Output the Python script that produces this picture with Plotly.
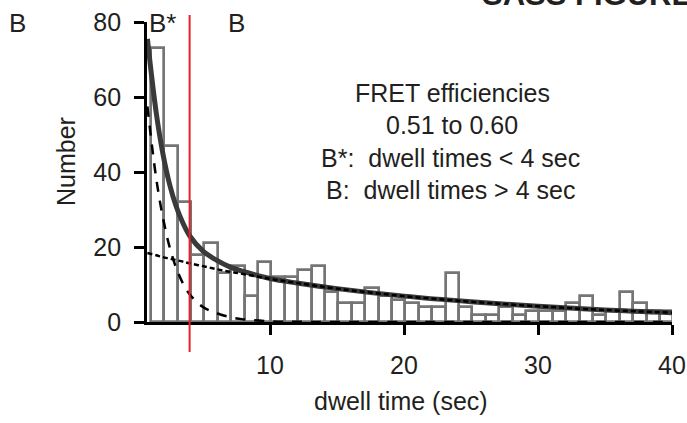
import plotly.graph_objects as go

# ---- data ----
bin_centers = [k + 0.6 for k in range(1, 40)]
counts = [73, 47, 32, 18, 21, 13, 15, 7, 16, 12,
          12, 14, 15, 8, 5, 5, 9, 7, 6, 5,
          4, 4, 13, 4, 2, 2, 4, 2, 3, 3,
          3, 5, 7, 2, 3, 8, 5, 3, 3]

fit_x = [0.85, 1.5, 2, 2.5, 3, 3.5, 4, 5, 6, 7, 8, 10, 12, 15, 20, 25, 30, 35, 40]
fit_total = [75.5, 56.0, 45.0, 36.8, 30.8, 26.4, 23.0, 18.9, 16.5, 14.7, 13.5,
             11.6, 10.4, 8.9, 6.9, 5.4, 4.2, 3.2, 2.5]
fit_fast = [57.5, 38.5, 28.0, 20.1, 14.4, 10.3, 7.4, 4.0, 2.4, 1.3, 0.7,
            0.2, 0.05, 0, 0, 0, 0, 0, 0]
fit_slow = [18.4, 17.8, 17.3, 16.9, 16.5, 16.1, 15.65, 14.9, 14.1, 13.4, 12.8,
            11.5, 10.4, 8.9, 6.9, 5.4, 4.2, 3.2, 2.5]

x_ticks = [10, 20, 30, 40]
y_ticks = [0, 20, 40, 60, 80]
threshold = 4

FONT = "Liberation Sans, Arial, Helvetica, sans-serif"
TXT = "#231f20"

fig = go.Figure()
fig.add_trace(go.Bar(x=bin_centers, y=counts, width=1,
                     marker=dict(color="rgba(255,255,255,0)",
                                 line=dict(color="#757575", width=2.7)),
                     showlegend=False))
fig.add_trace(go.Scatter(x=fit_x, y=fit_total, mode="lines",
                         line=dict(color="#3a3a3a", width=5, shape="spline"),
                         showlegend=False))
fig.add_trace(go.Scatter(x=fit_x, y=fit_fast, mode="lines",
                         line=dict(color="#000000", width=2.5, dash="10px,9px",
                                   shape="spline"),
                         showlegend=False))
fig.add_trace(go.Scatter(x=fit_x, y=fit_slow, mode="lines",
                         line=dict(color="#000000", width=2.5, dash="5px,3px",
                                   shape="spline"),
                         showlegend=False))

fig.add_shape(type="line", xref="x", yref="paper", x0=threshold, x1=threshold,
              y0=-0.1, y1=1.023, line=dict(color="#e8202a", width=2))

L, R, T, B = 147, 15, 22, 101
W, H = 687, 423
pw, ph = W - L - R, H - T - B


def px(xp):
    return (xp - L) / pw


def py(yp):
    return (H - B - yp) / ph


anns = [
    dict(text="B", x=px(17.5), y=py(22.5), size=26),
    dict(text="B*", x=px(162.5), y=py(22.5), size=26),
    dict(text="B", x=px(236), y=py(22.5), size=26),
    dict(text="FRET efficiencies", x=px(452), y=py(93), size=25),
    dict(text="0.51 to 0.60", x=px(452), y=py(124.5), size=25),
    dict(text="B*:\u00a0 dwell times &lt; 4 sec", x=px(450), y=py(157.5), size=25),
    dict(text="B:\u00a0 dwell times &gt; 4 sec", x=px(450), y=py(189.5), size=25),
    dict(text="dwell time (sec)", x=px(401), y=py(401), size=25),
]
for a in anns:
    fig.add_annotation(text=a["text"], x=a["x"], y=a["y"], xref="paper", yref="paper",
                       showarrow=False, xanchor="center", yanchor="middle",
                       font=dict(family=FONT, size=a["size"], color=TXT))
fig.add_annotation(text="Number", x=px(66), y=py(162), xref="paper", yref="paper",
                   showarrow=False, textangle=-90, xanchor="center", yanchor="middle",
                   font=dict(family=FONT, size=25, color=TXT))
fig.add_annotation(text="<b>SASS FIGURE</b>", x=px(480), y=py(-6), xref="paper",
                   yref="paper", showarrow=False, xanchor="left", yanchor="middle",
                   font=dict(family=FONT, size=31, color="#231f20"))

fig.update_layout(
    width=W, height=H, margin=dict(l=L, r=R, t=T, b=B, autoexpand=False),
    paper_bgcolor="white", plot_bgcolor="white",
    bargap=0,
    font=dict(family=FONT, size=25, color=TXT),
    xaxis=dict(range=[0.82, 40], tickvals=x_ticks, ticks="outside", ticklen=10,
               tickwidth=2.5, tickcolor="black", showline=True, linecolor="black",
               linewidth=2.7, showgrid=False, zeroline=False, automargin=False,
               tickfont=dict(size=25, color=TXT), ticklabelstandoff=9),
    yaxis=dict(range=[0, 80], tickvals=y_ticks, ticks="outside", ticklen=10,
               tickwidth=2.5, tickcolor="black", showline=True, linecolor="black",
               linewidth=2.7, showgrid=False, zeroline=False, automargin=False,
               tickfont=dict(size=25, color=TXT), ticklabelstandoff=8),
)

fig.write_html("out.html")
